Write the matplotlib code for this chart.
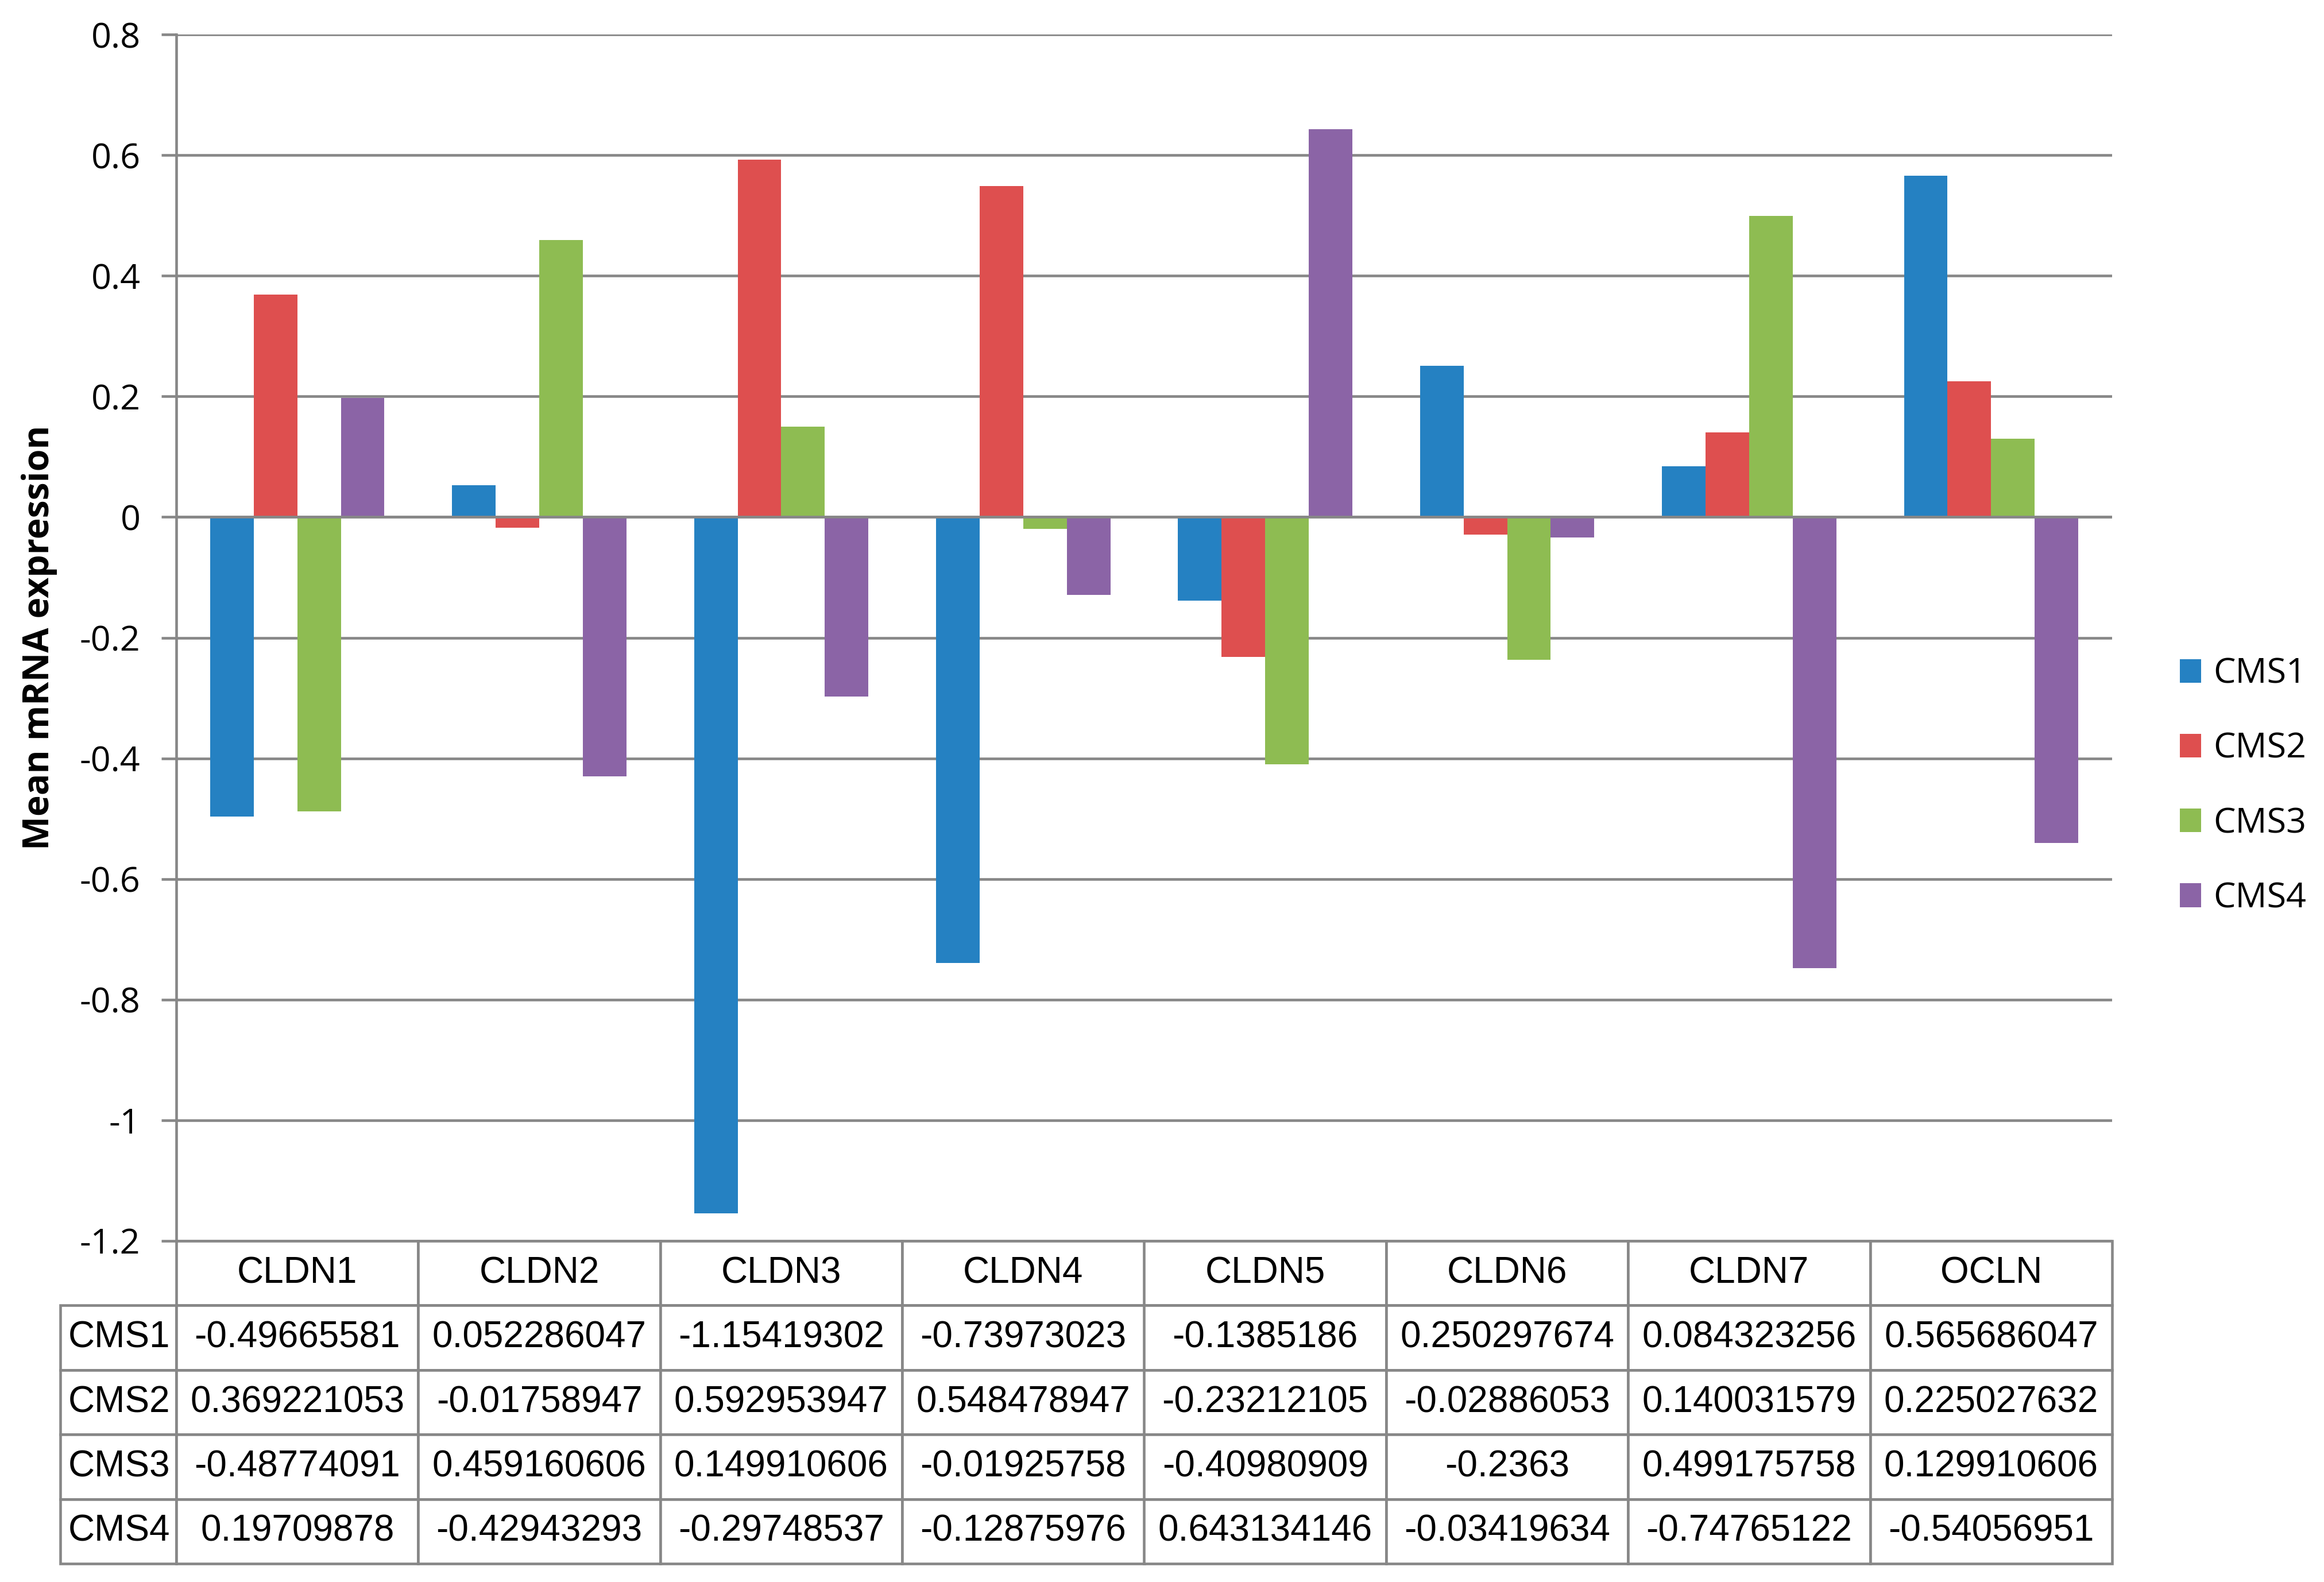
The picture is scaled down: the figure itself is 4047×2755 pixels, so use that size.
import matplotlib
matplotlib.use("Agg")
import matplotlib.pyplot as plt
from matplotlib.table import Table
import numpy as np

genes = ["CLDN1", "CLDN2", "CLDN3", "CLDN4", "CLDN5", "CLDN6", "CLDN7", "OCLN"]
groups = ["CMS1", "CMS2", "CMS3", "CMS4"]
cms1 = [-0.49665581, 0.052286047, -1.15419302, -0.73973023, -0.1385186, 0.250297674, 0.084323256, 0.565686047]
cms2 = [0.369221053, -0.01758947, 0.592953947, 0.548478947, -0.23212105, -0.02886053, 0.140031579, 0.225027632]
cms3 = [-0.48774091, 0.459160606, 0.149910606, -0.01925758, -0.40980909, -0.2363, 0.499175758, 0.129910606]
cms4 = [0.19709878, -0.42943293, -0.29748537, -0.12875976, 0.643134146, -0.03419634, -0.74765122, -0.54056951]
series = [cms1, cms2, cms3, cms4]
colors = ["#2581C2", "#DE4F4F", "#8EBC52", "#8B64A6"]
yticks = [0.8, 0.6, 0.4, 0.2, 0, -0.2, -0.4, -0.6, -0.8, -1, -1.2]

W, H = 4047, 2755
grid_c = "#878787"
lw = 3.3

fig = plt.figure(figsize=(W / 100, H / 100), dpi=100)
ax = fig.add_axes([307 / W, 1 - 2161 / H, (3678 - 307) / W, (2161 - 60) / H])

x = np.arange(len(genes))
bw = 0.18
offs = [-0.27, -0.09, 0.09, 0.27]
for s, vals in enumerate(series):
    ax.bar(x + offs[s], vals, width=bw, color=colors[s], linewidth=0,
           label=groups[s], zorder=3)

ax.set_xlim(-0.5, len(genes) - 0.5)
ax.set_ylim(-1.2, 0.8)
ax.set_yticks(yticks)
ax.set_yticklabels(["%g" % v for v in yticks], fontsize=44, family="Open Sans")
ax.set_xticks([])
ax.tick_params(axis="y", length=19, width=lw, color=grid_c, pad=26)
ax.yaxis.grid(True, color=grid_c, linewidth=lw, zorder=0)
ax.set_axisbelow(True)
ax.axhline(0, color=grid_c, linewidth=lw, zorder=4)
for sp in ["top", "right", "bottom"]:
    ax.spines[sp].set_visible(False)
ax.spines["left"].set_color(grid_c)
ax.spines["left"].set_linewidth(lw)

ax.set_ylabel("Mean mRNA expression", fontsize=45, fontweight="bold",
              family="Open Sans")
ax.yaxis.set_label_coords(-(307 - 100) / (3678 - 307), 0.5)

# data table under the plot
rl_w = (307 - 105) / (3678 - 307)
tb_h = (2723 - 2161) / (2161 - 60)
cw = 1 / len(genes)
rh = 1 / (len(groups) + 1)
tbl = Table(ax, bbox=[-rl_w, -tb_h, 1 + rl_w, tb_h])
for j, g in enumerate(genes):
    tbl.add_cell(0, j + 1, width=cw, height=rh, text=g, loc="center")
for i, vals in enumerate(series):
    tbl.add_cell(i + 1, 0, width=rl_w, height=rh, text=groups[i], loc="left")
    for j, v in enumerate(vals):
        tbl.add_cell(i + 1, j + 1, width=cw, height=rh, text=str(v), loc="center")
tbl.auto_set_font_size(False)
tbl.set_fontsize(46)
for key, cell in tbl.get_celld().items():
    cell.set_edgecolor(grid_c)
    cell.set_linewidth(lw)
    cell.get_text().set_fontfamily("Liberation Sans")
    if key[1] == 0:
        cell.PAD = 0.07
ax.add_table(tbl)

leg = fig.legend(loc="center left", bbox_to_anchor=(3796 / W, 1 - 1369 / H),
                 frameon=False, prop={"family": "Open Sans", "size": 44},
                 handlelength=0.6, handleheight=0.66, handletextpad=0.35,
                 labelspacing=1.15, borderpad=0, borderaxespad=0)

fig.savefig("out.png", dpi=100)
